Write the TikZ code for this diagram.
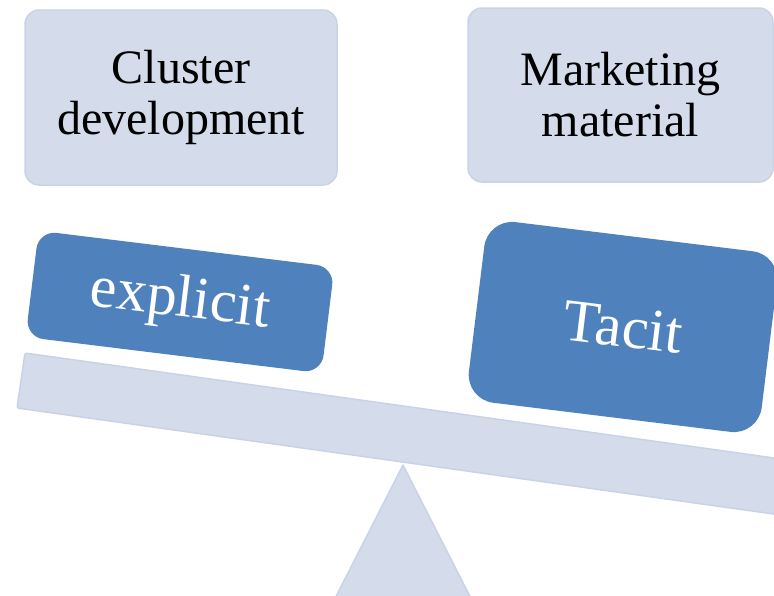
\documentclass[tikz,border=0pt]{standalone}
\usepackage{fontspec}
\setmainfont{Liberation Serif}
\definecolor{lightfill}{HTML}{D4DBEA}
\definecolor{lightline}{HTML}{CAD3E6}
\definecolor{bluefill}{HTML}{4F81BD}
\begin{document}
\begin{tikzpicture}[x=1pt,y=-1pt,
  topbox/.style={rectangle, rounded corners=14pt, fill=lightfill, draw=lightline, line width=1.5pt,
    minimum width=312pt, minimum height=175pt, inner sep=0pt, align=center,
    font=\rmfamily\fontsize{48}{51}\selectfont},
  weightbox/.style={rectangle, fill=bluefill, text=white, inner sep=0pt,
    font=\rmfamily\fontsize{60}{62}\selectfont, rotate=-7},
  support/.style={fill=lightfill, draw=lightline, line width=1.5pt, line join=round}]
\useasboundingbox (0,0) rectangle (774,595);
\clip (0,0) rectangle (774,595);
% top boxes
\node[topbox] (cluster) at (181,97.5) {Cluster\\development};
\node[topbox, minimum width=305pt, minimum height=174pt] (marketing) at (620.5,95) {Marketing\\material};
% beam and fulcrum
\draw[support, rounded corners=2pt] (25,353) -- (817,464) -- (809,519) -- (17,408) -- cycle;
\draw[support] (403,465) -- (482,620) -- (324,620) -- cycle;
% weights
\node[weightbox, rounded corners=18pt, minimum width=298pt, minimum height=107pt] (explicit) at (180,302) {explicit};
\node[weightbox, rounded corners=28pt, minimum width=295pt, minimum height=182pt] (tacit) at (623,327) {Tacit};
\end{tikzpicture}
\end{document}
